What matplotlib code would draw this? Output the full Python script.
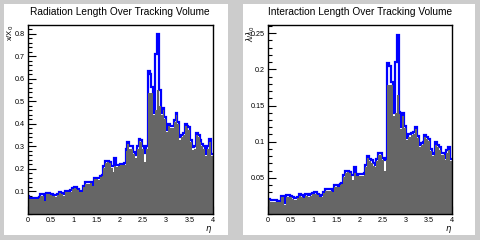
import matplotlib
matplotlib.use("Agg")
import matplotlib.pyplot as plt
import matplotlib.patches as mpatches
import numpy as np

plt.rcParams["font.family"] = ["Liberation Sans", "DejaVu Sans"]

# -----------------------------------------------------------------------
# Data: 100 eta bins from 0 to 4
# -----------------------------------------------------------------------
ETA_MIN, ETA_MAX, N_BINS = 0.0, 4.0, 100

# radiation length, total (blue line) and filled (gray) histograms
x0_total = [
    0.079, 0.072, 0.072, 0.071, 0.072, 0.071, 0.075, 0.088, 0.087, 0.062,
    0.093, 0.094, 0.090, 0.087, 0.086, 0.083, 0.090, 0.098, 0.095, 0.087,
    0.103, 0.104, 0.102, 0.105, 0.117, 0.120, 0.119, 0.112, 0.103, 0.104,
    0.125, 0.140, 0.141, 0.140, 0.142, 0.130, 0.160, 0.162, 0.158, 0.170,
    0.175, 0.215, 0.235, 0.237, 0.232, 0.215, 0.214, 0.249, 0.217, 0.218,
    0.223, 0.223, 0.225, 0.290, 0.320, 0.300, 0.300, 0.274, 0.260, 0.300,
    0.332, 0.330, 0.300, 0.270, 0.300, 0.633, 0.620, 0.565, 0.450, 0.710,
    0.800, 0.550, 0.448, 0.470, 0.430, 0.375, 0.400, 0.390, 0.390, 0.419,
    0.448, 0.410, 0.340, 0.350, 0.360, 0.400, 0.390, 0.385, 0.330, 0.296,
    0.300, 0.360, 0.350, 0.330, 0.310, 0.300, 0.267, 0.300, 0.332, 0.267,
]
x0_fill = [
    0.073, 0.066, 0.066, 0.065, 0.066, 0.065, 0.069, 0.082, 0.080, 0.056,
    0.087, 0.088, 0.084, 0.081, 0.080, 0.077, 0.084, 0.092, 0.089, 0.081,
    0.097, 0.098, 0.096, 0.099, 0.111, 0.114, 0.113, 0.106, 0.097, 0.098,
    0.119, 0.134, 0.135, 0.134, 0.136, 0.124, 0.154, 0.156, 0.152, 0.164,
    0.169, 0.205, 0.228, 0.230, 0.225, 0.205, 0.185, 0.215, 0.210, 0.211,
    0.216, 0.216, 0.218, 0.280, 0.310, 0.290, 0.290, 0.265, 0.250, 0.290,
    0.322, 0.320, 0.290, 0.230, 0.290, 0.535, 0.535, 0.535, 0.440, 0.460,
    0.550, 0.480, 0.440, 0.460, 0.420, 0.365, 0.390, 0.380, 0.380, 0.410,
    0.440, 0.400, 0.330, 0.340, 0.350, 0.390, 0.380, 0.375, 0.320, 0.286,
    0.290, 0.350, 0.340, 0.320, 0.300, 0.290, 0.257, 0.290, 0.320, 0.257,
]

# interaction length, total (blue line) and filled (gray) histograms
l0_total = [
    0.021, 0.019, 0.019, 0.019, 0.019, 0.018, 0.018, 0.025, 0.025, 0.015,
    0.026, 0.026, 0.025, 0.023, 0.022, 0.022, 0.024, 0.027, 0.026, 0.024,
    0.027, 0.027, 0.026, 0.027, 0.029, 0.030, 0.030, 0.028, 0.025, 0.026,
    0.031, 0.034, 0.034, 0.034, 0.034, 0.032, 0.040, 0.040, 0.039, 0.042,
    0.043, 0.054, 0.059, 0.060, 0.058, 0.054, 0.054, 0.065, 0.054, 0.055,
    0.055, 0.055, 0.056, 0.068, 0.080, 0.076, 0.074, 0.070, 0.068, 0.076,
    0.085, 0.084, 0.077, 0.074, 0.077, 0.209, 0.205, 0.183, 0.140, 0.210,
    0.248, 0.141, 0.120, 0.139, 0.122, 0.105, 0.110, 0.110, 0.112, 0.113,
    0.120, 0.108, 0.096, 0.098, 0.100, 0.109, 0.106, 0.104, 0.090, 0.083,
    0.084, 0.099, 0.096, 0.092, 0.085, 0.084, 0.078, 0.088, 0.092, 0.076,
]
l0_fill = [
    0.019, 0.017, 0.017, 0.017, 0.017, 0.016, 0.016, 0.023, 0.023, 0.013,
    0.024, 0.024, 0.023, 0.021, 0.020, 0.020, 0.022, 0.025, 0.024, 0.022,
    0.025, 0.025, 0.024, 0.025, 0.027, 0.028, 0.028, 0.026, 0.023, 0.024,
    0.029, 0.032, 0.032, 0.032, 0.032, 0.030, 0.038, 0.038, 0.037, 0.040,
    0.041, 0.051, 0.057, 0.058, 0.056, 0.052, 0.047, 0.056, 0.052, 0.053,
    0.053, 0.053, 0.054, 0.065, 0.077, 0.073, 0.071, 0.067, 0.065, 0.073,
    0.082, 0.081, 0.074, 0.060, 0.074, 0.178, 0.178, 0.178, 0.136, 0.140,
    0.164, 0.138, 0.117, 0.136, 0.119, 0.102, 0.107, 0.107, 0.109, 0.110,
    0.117, 0.105, 0.093, 0.095, 0.097, 0.106, 0.103, 0.101, 0.087, 0.080,
    0.081, 0.096, 0.093, 0.089, 0.082, 0.081, 0.075, 0.085, 0.089, 0.073,
]

titles = ["Radiation Length Over Tracking Volume",
          "Interaction Length Over Tracking Volume"]
ylabels = [r"x/X$_{0}$", r"$\lambda$/$\lambda_{0}$"]
ylims = [(0.018, 0.839), (0.0037, 0.2613)]
ymajor = [0.1, 0.05]
yminor = [0.02, 0.01]
ytick_fmt = ["{:.1f}", "{:g}"]

# -----------------------------------------------------------------------
# Plotting (ROOT-like look)
# -----------------------------------------------------------------------
W, H = 480, 240
CANVAS = "#cccccc"
FILL = "#666666"
LINE = "#0000ff"

fig = plt.figure(figsize=(W / 100, H / 100), dpi=100, facecolor=CANVAS)

# pads and frames as pixel boxes: left, top, right, bottom
pads = [(4, 4, 228, 235), (243, 4, 475, 235)]
frames = [(27.5, 25, 212.5, 214), (267.7, 25, 452, 214)]

edges = np.linspace(ETA_MIN, ETA_MAX, N_BINS + 1)

for k, (total, fill) in enumerate([(x0_total, x0_fill), (l0_total, l0_fill)]):
    l, t, r, b = pads[k]
    fig.patches.append(mpatches.Rectangle((l / W, 1 - b / H), (r - l) / W, (b - t) / H,
                                          transform=fig.transFigure, facecolor="white",
                                          edgecolor="none", zorder=-5))
    l, t, r, b = frames[k]
    ax = fig.add_axes([l / W, 1 - b / H, (r - l) / W, (b - t) / H])

    ax.stairs(total, edges, color=LINE, linewidth=1.6, baseline=None, zorder=2)
    ax.stairs(fill, edges, fill=True, color=FILL, linewidth=0, zorder=3)

    ax.set_xlim(ETA_MIN, ETA_MAX)
    ax.set_ylim(*ylims[k])

    ax.set_xticks(np.arange(0, 4.01, 0.5))
    ax.set_xticks(np.arange(0, 4.01, 0.1), minor=True)
    ax.set_xticklabels(["0", "0.5", "1", "1.5", "2", "2.5", "3", "3.5", "4"])
    yt = np.arange(ymajor[k], ylims[k][1], ymajor[k])
    ax.set_yticks(yt)
    ax.set_yticklabels([ytick_fmt[k].format(v) for v in yt])
    ax.set_yticks(np.arange(0, ylims[k][1], yminor[k]), minor=True)

    ax.tick_params(which="both", direction="in", top=False, right=False,
                   labelsize=5.2, width=0.8, color="black", pad=2)
    ax.tick_params(which="major", length=5.5)
    ax.tick_params(which="minor", length=2.8)
    for sp in ax.spines.values():
        sp.set_linewidth(1.0)
        sp.set_zorder(5)

    ax.set_title(titles[k], fontsize=7.3, pad=7)
    ax.text(1.0, -0.052, r"$\eta$", transform=ax.transAxes, fontsize=6,
            ha="right", va="top")
    ax.text(-0.093, 1.0, ylabels[k], transform=ax.transAxes, fontsize=5.5,
            rotation=90, ha="center", va="top")

fig.savefig("out.png", dpi=100, facecolor=CANVAS)
